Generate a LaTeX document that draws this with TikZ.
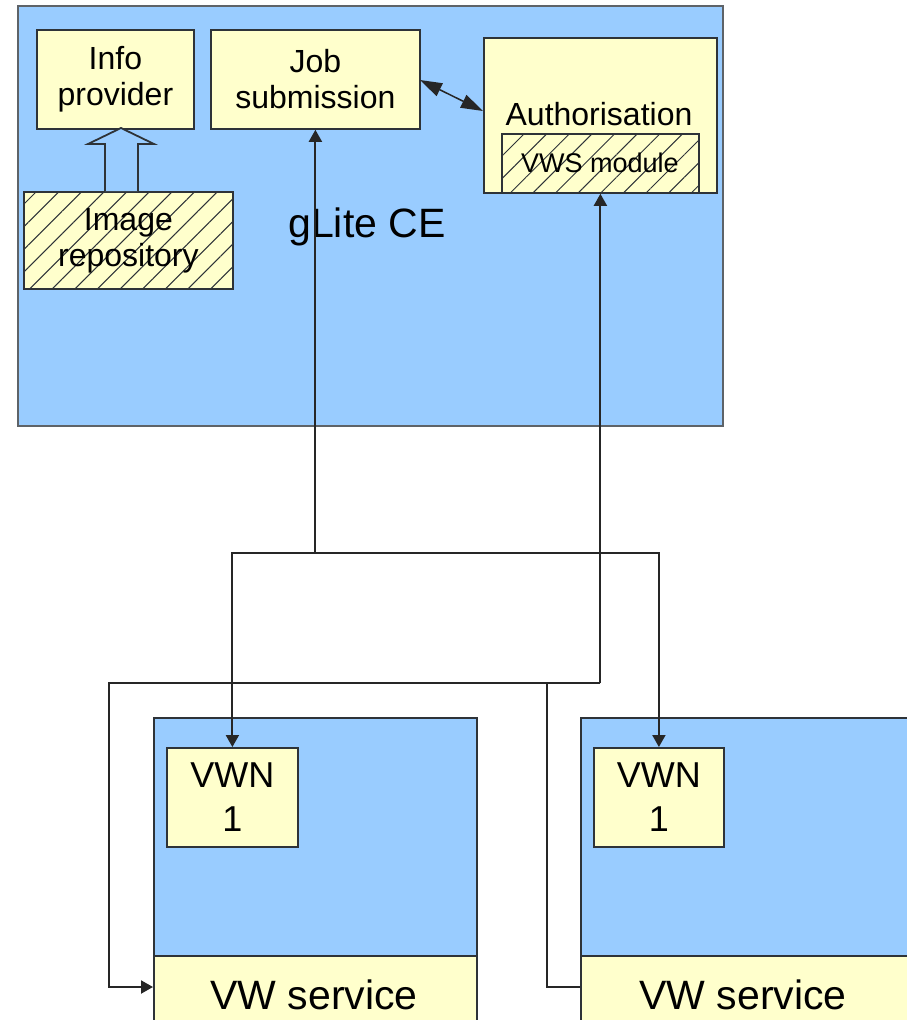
\documentclass[tikz,border=0pt]{standalone}
\usepackage{fontspec}
\setmainfont{Liberation Sans}
\usetikzlibrary{arrows.meta,patterns.meta}
\definecolor{ceblue}{HTML}{99CCFF}
\definecolor{boxyel}{HTML}{FFFFCC}
\definecolor{edge}{HTML}{2E3338}
\definecolor{outer}{HTML}{5E6368}
\tikzset{
  box/.style={draw=edge, fill=boxyel, line width=1.8pt, inner sep=0pt, anchor=north west, align=center},
  panel/.style={draw=edge, fill=ceblue, line width=1.8pt, inner sep=0pt, anchor=north west},
  hatched/.style={box, postaction={pattern={Lines[angle=45,distance=16pt,line width=1pt]}, pattern color=edge}},
  lbl/.style={font=\fontsize{32}{36}\selectfont},
  big/.style={font=\fontsize{41}{46}\selectfont},
  link/.style={draw=black!85, line width=2pt},
  tip/.style={-{Triangle[length=12pt,width=13pt]}},
}
\begin{document}
\begin{tikzpicture}[x=1pt,y=-1pt]
\useasboundingbox (0,0) rectangle (906,1020);
\fill[white] (0,0) rectangle (906,1020);

% gLite CE
\node[panel, draw=outer, minimum width=705pt, minimum height=420pt] (ce) at (17,5) {};
\node[big, anchor=base] (celbl) at (367,237) {gLite CE};

\node[box, lbl, minimum width=157pt, minimum height=99pt] (info) at (36,29) {Info\\provider};
\node[box, lbl, minimum width=209pt, minimum height=99pt] (job) at (210,29) {Job\\submission};
\node[box, minimum width=233pt, minimum height=155pt] (auth) at (483,37) {};
\node[lbl, anchor=base] (authlbl) at (599,125) {Authorisation};
\node[hatched, minimum width=197pt, minimum height=59pt] (vws) at (501,133) {};
\node[anchor=base, font=\fontsize{27}{30}\selectfont] (vwslbl) at (600,172) {VWS module};
\node[hatched, lbl, minimum width=209pt, minimum height=97pt] (repo) at (23,191) {Image\\repository};

% hollow arrow from the repository to the info provider
\draw[draw=edge, fill=ceblue, line width=1.8pt, line join=miter]
  (105,191) -- (105,144) -- (88,144) -- (121,128) -- (154,144) -- (138,144) -- (138,191);

% link between job submission and authorisation
\draw[link, line width=1.5pt, {Triangle[length=22pt,width=14pt]}-{Triangle[length=22pt,width=14pt]}]
  (420,80) -- (483,111);

% virtual workspace hosts
\node[panel, minimum width=323pt, minimum height=238pt] (panL) at (153,717) {};
\node[box, minimum width=323pt, minimum height=75pt] (svcL) at (153,955) {};
\node[big, anchor=base] (svcLlbl) at (314,1009) {VW service};
\node[box, font=\fontsize{36}{44}\selectfont, minimum width=131pt, minimum height=99pt] (vwnL) at (166,747) {VWN\\1};

\node[panel, minimum width=330pt, minimum height=238pt] (panR) at (580,717) {};
\node[box, minimum width=330pt, minimum height=75pt] (svcR) at (580,955) {};
\node[big, anchor=base] (svcRlbl) at (743,1009) {VW service};
\node[box, font=\fontsize{36}{44}\selectfont, minimum width=130pt, minimum height=99pt] (vwnR) at (593,747) {VWN\\1};

% job submission to the worker nodes
\coordinate (hubA) at (job.south |- 0,553);
\draw[link, tip] (hubA) -- (job.south);
\draw[link, tip] (hubA) -| (vwnL.north);
\draw[link, tip] (hubA) -| (vwnR.north);

% authorisation to the VW services
\coordinate (hubB) at (auth.south |- 0,683);
\coordinate (turnL) at (109,683);
\coordinate (turnR) at (547,683);
\draw[link, tip] (hubB) -- (auth.south);
\draw[link, tip] (hubB) -- (turnL) |- (svcL.west |- 0,987);
\draw[link] (turnR) |- (svcR.west |- 0,987);
\end{tikzpicture}
\end{document}
